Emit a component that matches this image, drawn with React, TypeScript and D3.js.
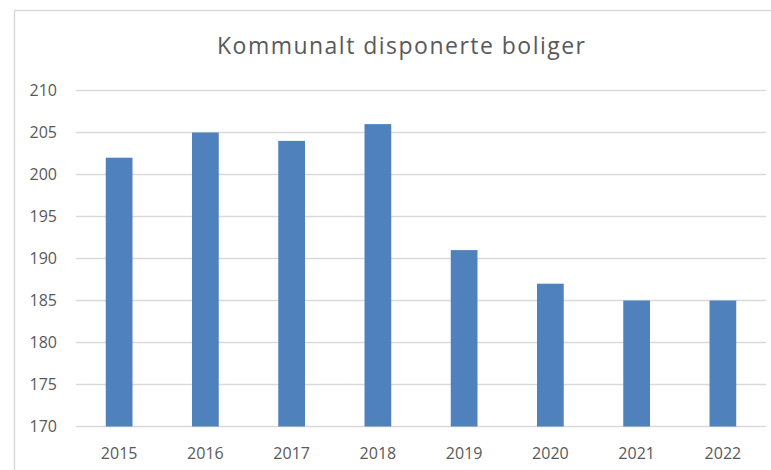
import React from "react";
import * as d3 from "d3";

const categories = ["2015", "2016", "2017", "2018", "2019", "2020", "2021", "2022"];
const values = [202, 205, 204, 206, 191, 187, 185, 185];
const yTicks = [170, 175, 180, 185, 190, 195, 200, 205, 210];
const title = "Kommunalt disponerte boliger";

const W = 771;
const H = 470;
const plot = { left: 76, right: 766, top: 90.5, bottom: 426.5 };
const font = "'Open Sans', 'Noto Sans', sans-serif";
const textColor = "#595959";

export default function App() {
  const x = d3.scaleBand<string>().domain(categories).range([plot.left, plot.right]).padding(0);
  const y = d3.scaleLinear().domain([170, 210]).range([plot.bottom, plot.top]);
  const barW = x.bandwidth() * 0.31;

  return (
    <svg width={W} height={H} style={{ position: "absolute", left: 0, top: 0 }}>
      <rect x={0} y={0} width={W} height={H} fill="#ffffff" />
      <rect x={14.5} y={10.5} width={W} height={H} fill="#ffffff" stroke="#d9d9d9" strokeWidth={1.5} />
      <text
        x={401}
        y={54}
        textAnchor="middle"
        fontFamily={font}
        fontSize={23}
        textLength={368}
        lengthAdjust="spacing"
        fill={textColor}
      >
        {title}
      </text>
      {yTicks.map((t) => (
        <g key={t}>
          <line
            x1={plot.left}
            x2={plot.right}
            y1={y(t)}
            y2={y(t)}
            stroke="#d9d9d9"
            strokeWidth={1.5}
          />
          <text
            x={57}
            y={y(t)}
            dy="0.35em"
            textAnchor="end"
            fontFamily={font}
            fontSize={16}
            fill={textColor}
          >
            {t}
          </text>
        </g>
      ))}
      {categories.map((c, i) => {
        const cx = (x(c) as number) + x.bandwidth() / 2;
        return (
          <g key={c}>
            <rect
              x={cx - barW / 2}
              y={y(values[i])}
              width={barW}
              height={y(170) - y(values[i])}
              fill="#4f81bd"
            />
            <text
              x={cx}
              y={459}
              textAnchor="middle"
              fontFamily={font}
              fontSize={16}
              fill={textColor}
            >
              {c}
            </text>
          </g>
        );
      })}
    </svg>
  );
}
